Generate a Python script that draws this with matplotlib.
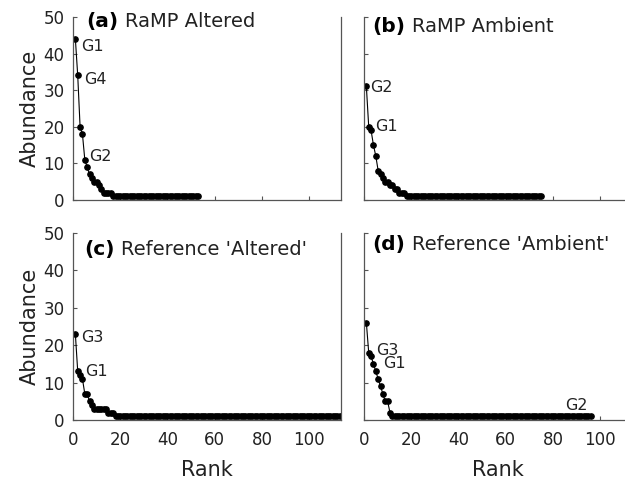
import matplotlib
matplotlib.use("Agg")
import matplotlib.pyplot as plt

plt.rcParams['font.family'] = ['DejaVu Sans']

# rank-abundance values (rank 1..n)
ramp_altered = [44, 34, 20, 18, 11, 9, 7, 6, 5, 5, 4, 3, 2, 2, 2, 2] + [1] * 37
ramp_ambient = [31, 20, 19, 15, 12, 8, 7, 6, 5, 5, 4, 4, 3, 3, 2, 2, 2] + [1] * 58
ref_altered = [23, 13, 12, 11, 7, 7, 5, 4, 3, 3, 3, 3, 3, 3, 2, 2, 2] + [1] * 96
ref_ambient = [26, 18, 17, 15, 13, 11, 9, 7, 5, 5, 2] + [1] * 85

panels = [
    ("(a)", "RaMP Altered", ramp_altered,
     [("G1", 3.4, 41.8), ("G4", 4.6, 33.0), ("G2", 6.8, 11.8)], (5.6, 48.6)),
    ("(b)", "RaMP Ambient", ramp_ambient,
     [("G2", 2.4, 30.6), ("G1", 4.6, 20.2)], (3.6, 47.3)),
    ("(c)", "Reference 'Altered'", ref_altered,
     [("G3", 3.6, 22.1), ("G1", 5.0, 12.9)], (4.6, 45.7)),
    ("(d)", "Reference 'Ambient'", ref_ambient,
     [("G3", 5.3, 18.6), ("G1", 8.1, 15.0), ("G2", 85.0, 4.0)], (3.6, 47.0)),
]

positions = [
    [0.1168, 0.585, 0.4288, 0.380],
    [0.5824, 0.585, 0.4288, 0.380],
    [0.1168, 0.1286, 0.4288, 0.388],
    [0.5824, 0.1286, 0.4288, 0.388],
]

fig = plt.figure(figsize=(6.25, 4.82), dpi=100)

for i, (tag, title, vals, labels, tpos) in enumerate(panels):
    ax = fig.add_axes(positions[i])
    ranks = list(range(1, len(vals) + 1))
    ax.plot(ranks, vals, "-o", color="black", lw=0.8, ms=3.8)
    ax.set_xlim(0, 113.5)
    ax.set_ylim(0, 50)
    ax.set_xticks([0, 20, 40, 60, 80, 100])
    ax.set_yticks([0, 10, 20, 30, 40, 50])
    ax.spines['top'].set_visible(False)
    for s in ['left', 'bottom', 'right']:
        ax.spines[s].set_color('#555555')
        ax.spines[s].set_linewidth(0.9)
    ax.tick_params(direction='in', length=3, color='#555555', labelsize=12,
                   labelcolor='#222222')
    ax.tick_params(axis='x', pad=8)
    ax.tick_params(axis='y', right=False, pad=6)
    if i in (1, 3):
        ax.set_yticklabels([])
    else:
        ax.set_ylabel("Abundance", fontsize=15, color='#222222', labelpad=3)
    if i in (0, 1):
        ax.set_xticklabels([])
    else:
        ax.set_xlabel("Rank", fontsize=15, color='#222222', labelpad=8)
    t = ax.text(tpos[0], tpos[1], tag, fontsize=14.5, fontweight='bold',
                va='center')
    ax.annotate(title, xy=(1, 0.5), xycoords=t, xytext=(5, 0),
                textcoords='offset points', fontsize=14, va='center',
                color='#222222')
    for name, x, y in labels:
        ax.text(x, y, name, fontsize=11.5, va='center', color='#222222')

fig.savefig("out.png", dpi=100)
